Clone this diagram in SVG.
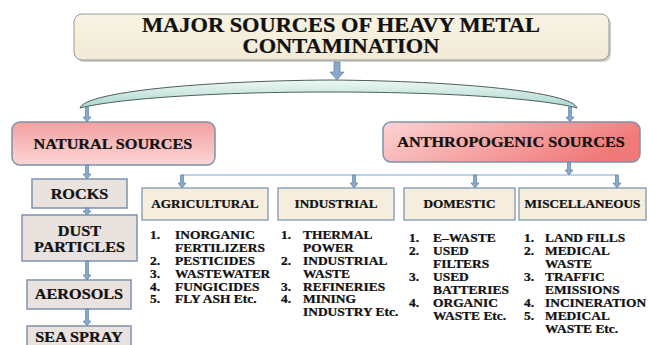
<svg xmlns="http://www.w3.org/2000/svg" width="649" height="345" viewBox="0 0 649 345">
<defs>
<linearGradient id="gTitle" x1="0" y1="0" x2="0" y2="1"><stop offset="0" stop-color="#f8f3e4"/><stop offset="1" stop-color="#f2ead6"/></linearGradient>
<linearGradient id="gNat" x1="0" y1="0" x2="0" y2="1"><stop offset="0" stop-color="#f4a0a0"/><stop offset="1" stop-color="#fbd6d6"/></linearGradient>
<linearGradient id="gAnt" x1="0" y1="0" x2="1" y2="0.3"><stop offset="0" stop-color="#fbd3d3"/><stop offset="1" stop-color="#f07a7a"/></linearGradient>
<linearGradient id="gArc" x1="0" y1="0" x2="0" y2="1"><stop offset="0" stop-color="#eef8f4"/><stop offset="1" stop-color="#a9d6cb"/></linearGradient>
</defs>
<style>
.t,.li{font-family:"Liberation Serif","Times New Roman",serif;font-weight:bold;fill:#111;stroke:#111;stroke-width:0.25}
.t{transform-box:fill-box;transform-origin:50% 50%;transform:scaleX(1.12)}
.L{transform-box:fill-box;transform-origin:0 50%;transform:scaleX(1.12)}
.big{font-size:20px}
.mid{font-size:14.5px}
.sd{font-size:14.5px}
.cat{font-size:11.8px}
.li{font-size:12px}
.side{fill:#e9e2df;stroke:#7d93ab;stroke-width:1.5}
.catbox{fill:#f5eedd;stroke:#8fa4bb;stroke-width:1.5}
.arr{fill:#87a8c9;stroke:#5f83a8;stroke-width:0.7}
.ln{stroke:#aac3da;stroke-width:1.5;fill:none}
</style>

<g id="title">
<rect x="76" y="16" width="535" height="46" rx="8" fill="#9aa0a0" opacity="0.5"/>
<rect x="74" y="14" width="535" height="46" rx="8" fill="url(#gTitle)" stroke="#9a9a96" stroke-width="1"/>
<text class="t big" x="341" y="32" text-anchor="middle">MAJOR  SOURCES OF HEAVY METAL</text>
<text class="t big" x="341" y="53" text-anchor="middle">CONTAMINATION</text>
</g>

<g id="arc">
<path d="M 80 108 C 85 92, 200 81, 330 80 C 460 81, 572 92, 577 108 C 540 98, 440 92, 330 92 C 220 92, 120 98, 80 108 Z" fill="url(#gArc)" stroke="#4e5d62" stroke-width="1"/>
</g>

<g id="natural">
<rect x="12" y="122" width="203" height="43" rx="8" fill="url(#gNat)" stroke="#7d93ab" stroke-width="1.5"/>
<text class="t mid" x="113" y="149" text-anchor="middle">NATURAL SOURCES</text>
</g>

<g id="anthropogenic">
<rect x="383" y="122" width="257" height="40" rx="8" fill="url(#gAnt)" stroke="#7d93ab" stroke-width="1.5"/>
<text class="t mid" x="511" y="147" text-anchor="middle">ANTHROPOGENIC SOURCES</text>
</g>

<g id="rocks">
<rect class="side" x="32" y="179" width="95" height="29"/>
<text class="t sd" x="79.5" y="199" text-anchor="middle">ROCKS</text>
</g>
<g id="dust">
<rect class="side" x="22" y="215" width="115" height="46"/>
<text class="t sd" x="79.5" y="236" text-anchor="middle">DUST</text>
<text class="t sd" x="79.5" y="252" text-anchor="middle">PARTICLES</text>
</g>
<g id="aerosols">
<rect class="side" x="27" y="280" width="104" height="29"/>
<text class="t sd" x="79" y="299" text-anchor="middle">AEROSOLS</text>
</g>
<g id="seaspray">
<rect class="side" x="27" y="326" width="104" height="26"/>
<text class="t sd" x="79" y="342" text-anchor="middle">SEA SPRAY</text>
</g>

<g id="agricultural">
<rect class="catbox" x="142" y="188" width="126" height="32"/>
<text class="t cat" x="205" y="208" text-anchor="middle">AGRICULTURAL</text>
<g class="li">
<text class="L" x="150" y="239">1.</text><text class="L" x="175" y="239">INORGANIC</text>
<text class="L" x="175" y="252">FERTILIZERS</text>
<text class="L" x="150" y="265">2.</text><text class="L" x="175" y="265">PESTICIDES</text>
<text class="L" x="150" y="278">3.</text><text class="L" x="175" y="278">WASTEWATER</text>
<text class="L" x="150" y="291">4.</text><text class="L" x="175" y="291">FUNGICIDES</text>
<text class="L" x="150" y="303">5.</text><text class="L" x="175" y="303">FLY ASH Etc.</text>
</g>
</g>

<g id="industrial">
<rect class="catbox" x="278" y="188" width="116" height="32"/>
<text class="t cat" x="336" y="208" text-anchor="middle">INDUSTRIAL</text>
<g class="li">
<text class="L" x="281" y="239">1.</text><text class="L" x="303" y="239">THERMAL</text>
<text class="L" x="303" y="252">POWER</text>
<text class="L" x="281" y="265">2.</text><text class="L" x="303" y="265">INDUSTRIAL</text>
<text class="L" x="303" y="278">WASTE</text>
<text class="L" x="281" y="291">3.</text><text class="L" x="303" y="291">REFINERIES</text>
<text class="L" x="281" y="303">4.</text><text class="L" x="303" y="303">MINING</text>
<text class="L" x="303" y="316">INDUSTRY Etc.</text>
</g>
</g>

<g id="domestic">
<rect class="catbox" x="404" y="188" width="111" height="32"/>
<text class="t cat" x="459.5" y="208" text-anchor="middle">DOMESTIC</text>
<g class="li">
<text class="L" x="409" y="242">1.</text><text class="L" x="433" y="242">E–WASTE</text>
<text class="L" x="409" y="255">2.</text><text class="L" x="433" y="255">USED</text>
<text class="L" x="433" y="268">FILTERS</text>
<text class="L" x="409" y="281">3.</text><text class="L" x="433" y="281">USED</text>
<text class="L" x="433" y="294">BATTERIES</text>
<text class="L" x="409" y="307">4.</text><text class="L" x="433" y="307">ORGANIC</text>
<text class="L" x="433" y="320">WASTE Etc.</text>
</g>
</g>

<g id="miscellaneous">
<rect class="catbox" x="519" y="188" width="127" height="32"/>
<text class="t cat" x="582.5" y="208" text-anchor="middle">MISCELLANEOUS</text>
<g class="li">
<text class="L" x="524" y="242">1.</text><text class="L" x="545" y="242">LAND FILLS</text>
<text class="L" x="524" y="255">2.</text><text class="L" x="545" y="255">MEDICAL</text>
<text class="L" x="545" y="268">WASTE</text>
<text class="L" x="524" y="281">3.</text><text class="L" x="545" y="281">TRAFFIC</text>
<text class="L" x="545" y="294">EMISSIONS</text>
<text class="L" x="524" y="307">4.</text><text class="L" x="545" y="307">INCINERATION</text>
<text class="L" x="524" y="320">5.</text><text class="L" x="545" y="320">MEDICAL</text>
<text class="L" x="545" y="333">WASTE Etc.</text>
</g>
</g>

<g id="connectors">
<path class="arr" d="M 334 62 H 340 V 72 H 344 L 337 80 L 330 72 H 334 Z"/>
<path class="ln" d="M 182 175 H 617"/>
<path class="arr" d="M 85.5 107 H 88.5 V 117 H 91 L 87 122 L 83 117 H 85.5 Z"/>
<path class="arr" d="M 568.5 107 H 571.5 V 117 H 574 L 570 122 L 566 117 H 568.5 Z"/>
<path class="arr" d="M 85.5 165 H 88.5 V 174 H 91 L 87 179 L 83 174 H 85.5 Z"/>
<path class="arr" d="M 85.5 208 H 88.5 V 211 H 91 L 87 215 L 83 211 H 85.5 Z"/>
<path class="arr" d="M 85.5 261 H 88.5 V 275 H 91 L 87 280 L 83 275 H 85.5 Z"/>
<path class="arr" d="M 85.5 309 H 88.5 V 321 H 91 L 87 326 L 83 321 H 85.5 Z"/>
<path class="arr" d="M 567.5 162 H 570.5 V 170 H 573 L 569 175 L 565 170 H 567.5 Z"/>
<path class="arr" d="M 180.5 175 H 183.5 V 183 H 186 L 182 188 L 178 183 H 180.5 Z"/>
<path class="arr" d="M 352.5 175 H 355.5 V 183 H 358 L 354 188 L 350 183 H 352.5 Z"/>
<path class="arr" d="M 473.5 175 H 476.5 V 183 H 479 L 475 188 L 471 183 H 473.5 Z"/>
<path class="arr" d="M 615.5 175 H 618.5 V 183 H 621 L 617 188 L 613 183 H 615.5 Z"/>
</g>
</svg>
